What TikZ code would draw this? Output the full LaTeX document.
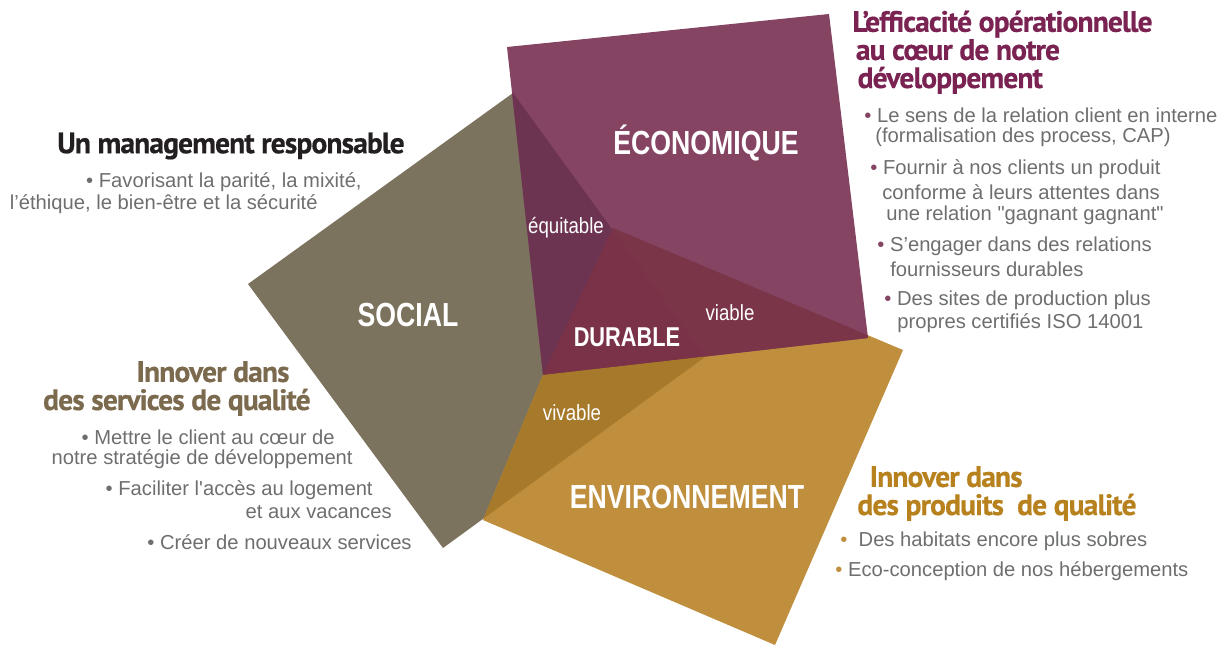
\documentclass[tikz,border=0pt]{standalone}
\usepackage{fontspec}
\setmainfont{Liberation Sans}
\newfontfamily\headfont{PT Sans}[LetterSpace=-3,BoldFeatures={FakeBold=0.5}]
\newfontfamily\bigfont[FakeStretch=0.8]{Liberation Sans}
\newfontfamily\narrowfont[FakeStretch=0.85]{Liberation Sans}
\usepackage{tikz}
\usetikzlibrary{positioning}

\definecolor{eco}{HTML}{844462}
\definecolor{soc}{HTML}{7C735E}
\definecolor{env}{HTML}{C08F3E}
\definecolor{equi}{HTML}{6D3452}
\definecolor{via}{HTML}{7A3549}
\definecolor{dur}{HTML}{793247}
\definecolor{viv}{HTML}{A67A2A}
\definecolor{txt}{HTML}{6D6E70}
\definecolor{hEco}{HTML}{7A2352}
\definecolor{hSoc}{HTML}{231F20}
\definecolor{hServ}{HTML}{7B6A4E}
\definecolor{hEnv}{HTML}{B7811D}

\newcommand{\bul}[1]{\textcolor{#1}{\textbullet}~}

\begin{document}
\begin{tikzpicture}[x=0.02cm,y=-0.02cm,
	pole/.style={font=\bigfont\bfseries\fontsize{19}{19}\selectfont,text=white,inner sep=0pt},
	tag/.style={font=\narrowfont\fontsize{12.5}{12.5}\selectfont,text=white,inner sep=0pt},
	head/.style={font=\headfont\bfseries\fontsize{16.8}{16}\selectfont,inner sep=0pt},
	body/.style={font=\fontsize{11.5}{11.5}\selectfont,text=txt,inner sep=0pt}]
	\useasboundingbox (0,0) rectangle (1219,646);

	% corners of the three poles
	\coordinate (e1) at (507,47);
	\coordinate (e2) at (829,14);
	\coordinate (e3) at (868,338);
	\coordinate (e4) at (543,375);
	\coordinate (s1) at (513,93);
	\coordinate (s2) at (248,284);
	\coordinate (s3) at (443,548);
	\coordinate (s4) at (705,357);
	\coordinate (v1) at (613,228);
	\coordinate (v2) at (903,350);
	\coordinate (v3) at (775,645);
	\coordinate (v4) at (483,520);

	\def\ecoshape{(e1) -- (e2) -- (e3) -- (e4) -- cycle}
	\def\socshape{(s1) -- (s2) -- (s3) -- (s4) -- cycle}
	\def\envshape{(v1) -- (v2) -- (v3) -- (v4) -- (e4) -- cycle}

	\fill[soc] \socshape;
	\fill[env] \envshape;
	\fill[eco] \ecoshape;
	\begin{scope}
		\clip \ecoshape;
		\fill[equi] \socshape;
		\fill[via] \envshape;
		\clip \socshape;
		\fill[dur] \envshape;
	\end{scope}
	\begin{scope}
		\clip \socshape;
		\clip (0,0) -- (e4) -- (e3) -- (1219,646) -- (0,646) -- cycle;
		\fill[viv] \envshape;
	\end{scope}

	% pole names
	\node [pole] (neco) at (706,143) {ÉCONOMIQUE};
	\node [pole] (nsoc) at (408,315) {SOCIAL};
	\node [pole] (nenv) at (687,497) {ENVIRONNEMENT};
	\node [pole,font=\bigfont\bfseries\fontsize{15.5}{15.5}\selectfont] (ndur) at (627,337) {DURABLE};
	\node [tag] (nequi) at (566,228) {équitable};
	\node [tag] (nvia) at (730,313) {viable};
	\node [tag] (nviv) at (572,413) {vivable};

	% economique
	\node [head,text=hEco,anchor=base west,align=left] (he) at (852,88)
		{L’efficacité opérationnelle\\\hspace*{2pt}au cœur de notre\\\hspace*{3pt}développement};
	\node [body,anchor=west] (be1) at (864,115) {\bul{eco}Le sens de la relation client en interne};
	\node [body,anchor=west] (be2) at (875,137) {(formalisation des process, CAP)};
	\node [body,anchor=west] (be3) at (870,169) {\bul{eco}Fournir à nos clients un produit};
	\node [body,anchor=west] (be4) at (882,192) {conforme à leurs attentes dans};
	\node [body,anchor=west] (be5) at (886,215) {une relation \textquotedbl gagnant gagnant\textquotedbl};
	\node [body,anchor=west] (be6) at (877,246) {\bul{eco}S’engager dans des relations};
	\node [body,anchor=west] (be7) at (890,269) {fournisseurs durables};
	\node [body,anchor=west] (be8) at (884,300) {\bul{eco}Des sites de production plus};
	\node [body,anchor=west] (be9) at (897,323) {propres certifiés ISO 14001};

	% social
	\node [head,text=hSoc,anchor=east] (hs1) at (405,146) {Un management responsable};
	\node [body,anchor=east] (bs1) at (362,182) {\bul{txt}Favorisant la parité, la mixité,};
	\node [body,anchor=east] (bs2) at (318,204) {l’éthique, le bien-être et la sécurité};
	\node [head,text=hServ,anchor=base east,align=right] (hs2) at (311,410)
		{Innover dans\hspace*{12pt}\\des services de qualité};
	\node [body,anchor=east] (bs3) at (335,437) {\bul{txt}Mettre le client au cœur de};
	\node [body,anchor=east] (bs4) at (353,459) {notre stratégie de développement};
	\node [body,anchor=east] (bs5) at (373,490) {\bul{txt}Faciliter l\textquotesingle accès au logement};
	\node [body,anchor=east] (bs6) at (392,512) {et aux vacances};
	\node [body,anchor=east] (bs7) at (412,542) {\bul{txt}Créer de nouveaux services};

	% environnement
	\node [head,text=hEnv,anchor=base west,align=left] (hv) at (857,515)
		{\hspace*{7pt}Innover dans\\des produits\ \ de qualité};
	\node [body,anchor=west] (bv1) at (840,541) {\bul{env}\ Des habitats encore plus sobres};
	\node [body,anchor=west] (bv2) at (835,571) {\bul{env}Eco-conception de nos hébergements};
\end{tikzpicture}
\end{document}
